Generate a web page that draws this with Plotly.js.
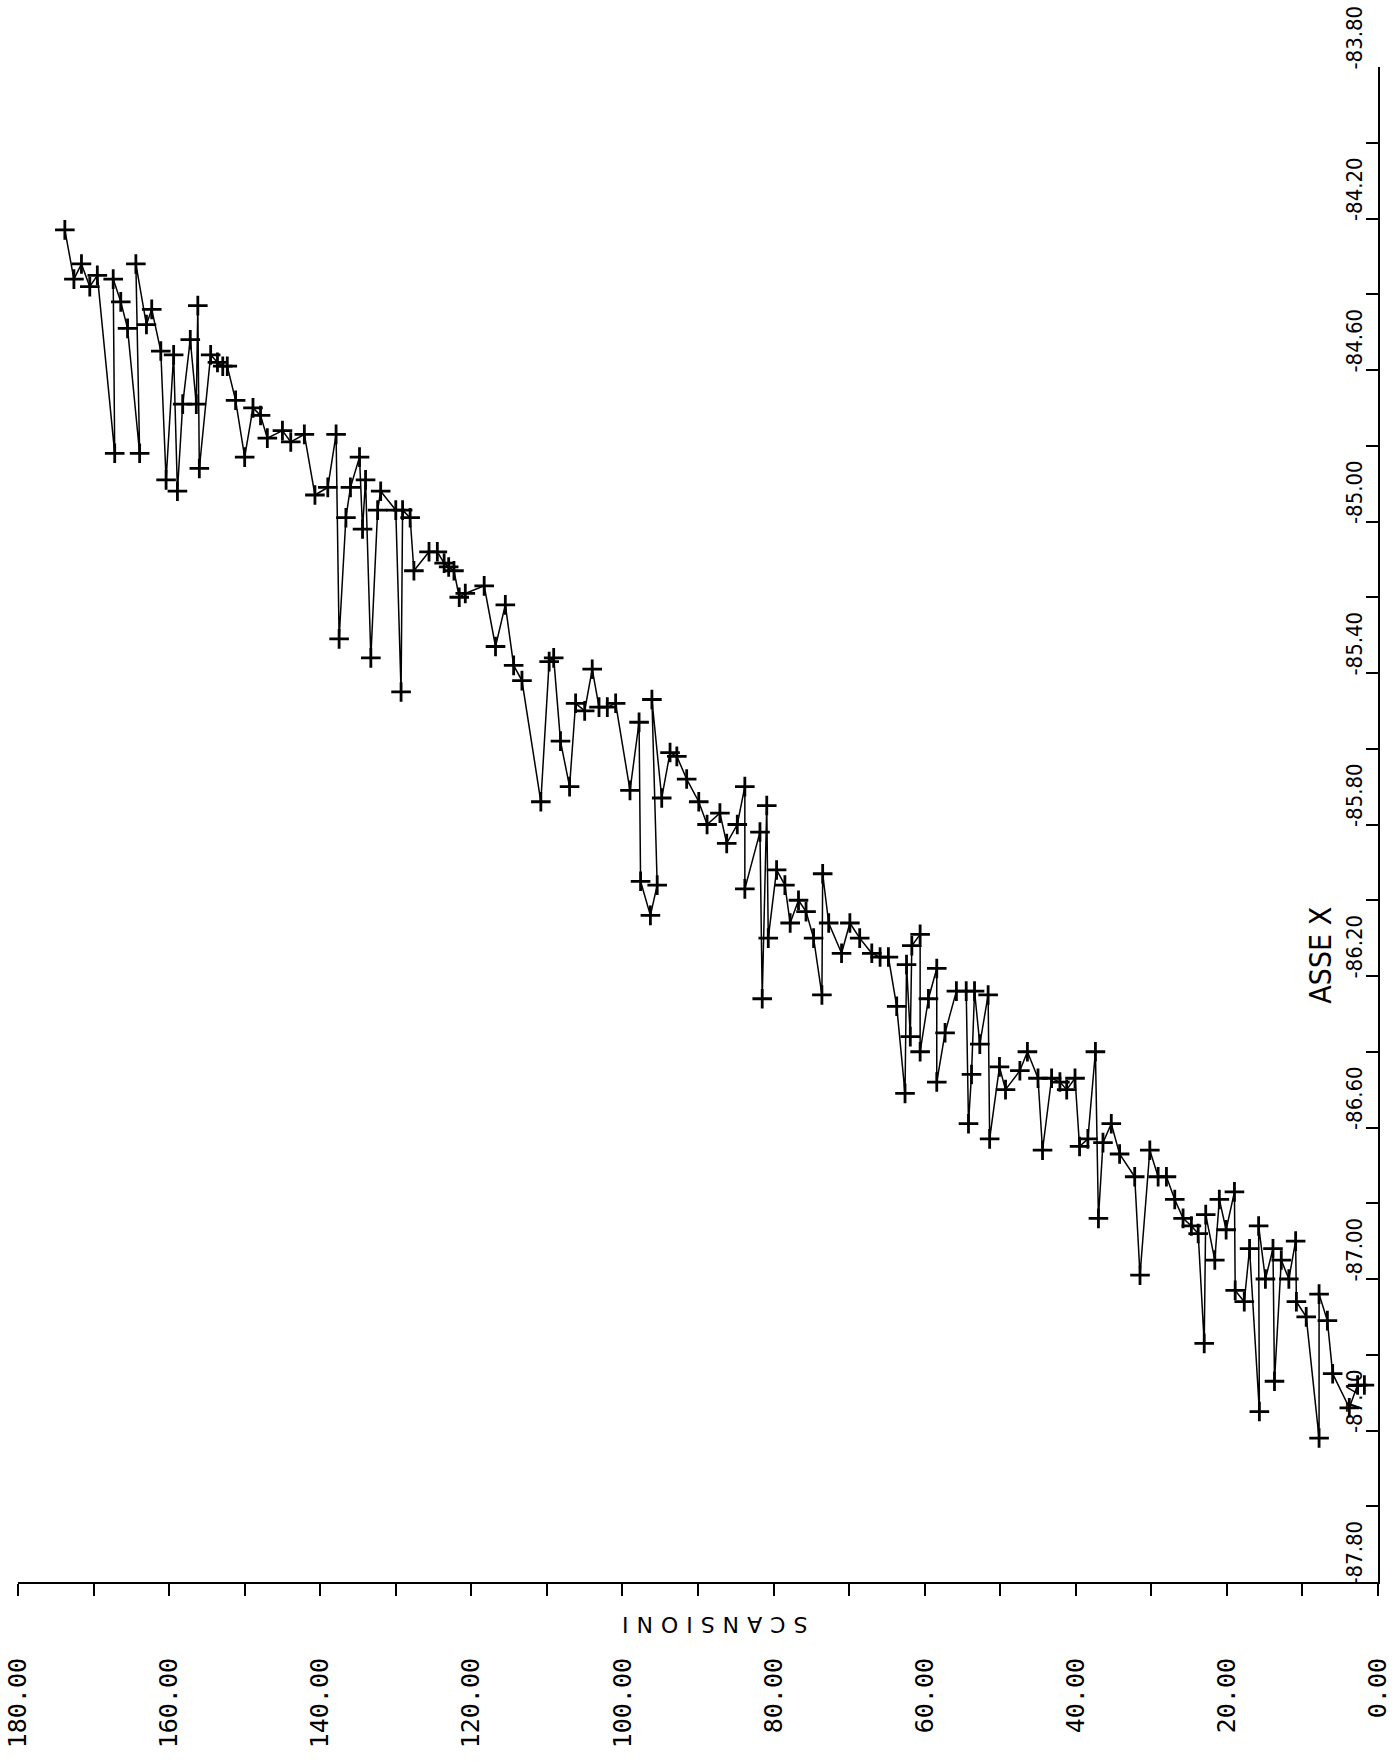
<!DOCTYPE html>
<html>
<head>
<meta charset="utf-8">
<script src="https://cdn.plot.ly/plotly-3.0.1.min.js"></script>
<style>html,body{margin:0;padding:0;background:#fff;}#chart{width:1394px;height:1762px;}</style>
</head>
<body>
<div id="chart"></div>
<script>
// Scan number (SCANSIONI) of each plotted point, in pen order
const scans = [173.8,172.6,171.6,170.5,169.5,167.2,167.4,166.4,165.5,163.9,164.4,163.0,162.3,161.1,160.4,159.4,158.9,158.2,157.2,156.4,156.2,156.0,154.5,153.6,152.9,152.3,151.2,150.0,148.9,147.9,147.0,145.0,143.9,142.1,140.7,139.0,137.9,137.5,136.6,136.0,134.8,134.4,134.0,133.3,132.4,132.0,130.0,129.3,129.1,128.1,127.6,125.6,124.5,123.6,123.0,122.3,121.6,120.8,118.3,116.8,115.5,114.4,113.3,110.8,109.7,109.1,108.2,107.0,106.2,105.0,104.0,103.1,102.0,100.9,
  99.0,97.8,97.6,96.3,95.4,96.1,94.8,93.7,92.8,91.5,89.9,88.8,87.1,86.2,84.8,83.8,83.8,81.8,81.5,80.9,80.7,79.6,78.5,77.8,76.7,75.7,74.7,73.6,73.5,72.7,71.0,69.9,68.6,67.0,65.9,64.8,
  63.7,62.6,62.4,61.9,61.7,60.6,60.6,59.5,58.4,58.4,57.3,55.8,54.5,54.2,53.8,53.4,52.7,51.6,51.4,50.1,
  49.3,47.4,46.4,45.0,44.4,43.2,42.1,41.2,40.1,39.5,38.4,37.4,37.0,36.4,35.3,34.2,32.2,31.5,30.2,29.1,28.0,26.9,25.8,24.7,23.8,23.0,22.8,21.6,21.0,20.1,19.0,18.9,17.7,17.0,15.7,15.8,14.9,13.9,13.7,12.8,11.8,10.9,10.8,9.5,7.8,7.8,6.7,6.0,3.8,2.7,1.8];
// ASSE X value of each point
const asseX = [-84.23,-84.36,-84.32,-84.38,-84.35,-84.82,-84.36,-84.42,-84.49,-84.82,-84.32,-84.48,-84.44,-84.55,-84.89,-84.56,-84.92,-84.69,-84.52,-84.69,-84.43,-84.86,-84.56,-84.58,-84.59,-84.59,-84.68,-84.83,-84.70,-84.72,-84.78,-84.76,-84.79,-84.77,-84.93,-84.91,-84.77,-85.31,-84.99,-84.91,-84.83,-85.02,-84.89,-85.36,-84.97,-84.92,-84.97,-85.45,-84.97,-84.99,-85.13,-85.08,-85.08,-85.11,-85.12,-85.13,-85.20,-85.19,-85.17,-85.33,-85.22,-85.38,-85.42,-85.74,-85.37,-85.36,-85.58,-85.70,-85.48,-85.50,-85.39,-85.49,-85.49,-85.48,
  -85.71,-85.53,-85.95,-86.04,-85.96,-85.47,-85.73,-85.61,-85.62,-85.68,-85.74,-85.80,-85.77,-85.85,-85.80,-85.70,-85.97,-85.82,-86.26,-85.75,-86.10,-85.92,-85.96,-86.06,-86.00,-86.03,-86.10,-86.25,-85.93,-86.06,-86.14,-86.06,-86.10,-86.14,-86.15,-86.15,
  -86.28,-86.51,-86.17,-86.36,-86.12,-86.09,-86.40,-86.26,-86.18,-86.48,-86.35,-86.24,-86.24,-86.59,-86.46,-86.24,-86.38,-86.25,-86.63,-86.44,
  -86.50,-86.45,-86.40,-86.47,-86.66,-86.47,-86.48,-86.50,-86.47,-86.65,-86.63,-86.40,-86.84,-86.64,-86.59,-86.67,-86.73,-86.99,-86.66,-86.73,-86.73,-86.79,-86.84,-86.86,-86.88,-87.17,-86.83,-86.95,-86.79,-86.87,-86.77,-87.03,-87.06,-86.92,-87.35,-86.86,-87.00,-86.92,-87.27,-86.95,-87.00,-86.90,-87.06,-87.10,-87.42,-87.04,-87.11,-87.25,-87.34,-87.28,-87.28];

// Axis ticks
const xTickVals = [0,20,40,60,80,100,120,140,160,180];
const xTickText = ["0.00","20.00","40.00","60.00","80.00","100.00","120.00","140.00","160.00","180.00"];
const yTickVals = [-87.8,-87.4,-87.0,-86.6,-86.2,-85.8,-85.4,-85.0,-84.6,-84.2,-83.8];
const yTickText = ["-87.80","-87.40","-87.00","-86.60","-86.20","-85.80","-85.40","-85.00","-84.60","-84.20","-83.80"];

const xTitle = "SCANSIONI";
const yTitle = "ASSE X";

const trace = {
  x: scans, y: asseX, type: 'scatter', mode: 'lines+markers',
  line: {color: '#000', width: 1.5},
  marker: {symbol: 'cross-thin', size: 14, color: '#000', line: {color: '#000', width: 2.8}},
  hoverinfo: 'skip', showlegend: false
};

const narrow = '"Liberation Sans Narrow", "DejaVu Sans Condensed", "Arial Narrow", sans-serif';

const layout = {
  width: 1394, height: 1762,
  margin: {l: 18, r: 16, t: 67, b: 180},
  paper_bgcolor: '#fff', plot_bgcolor: '#fff',
  showlegend: false,
  xaxis: {
    range: [180, 0], showgrid: false, zeroline: false,
    showline: true, linecolor: '#000', linewidth: 2,
    ticks: 'outside', ticklen: 12, tickwidth: 2, tickcolor: '#000',
    tickmode: 'array', tickvals: xTickVals, ticktext: xTickText,
    tickangle: -90, ticklabelstandoff: 52, ticklabeloverflow: 'allow',
    tickfont: {family: '"DejaVu Sans Mono", monospace', size: 25, color: '#000'},
    minor: {tickmode: 'linear', tick0: 0, dtick: 10, ticks: 'outside', ticklen: 12, tickwidth: 2, tickcolor: '#000', showgrid: false}
  },
  yaxis: {
    range: [-87.8, -83.8], side: 'right', showgrid: false, zeroline: false,
    showline: true, linecolor: '#000', linewidth: 2,
    ticks: 'inside', ticklen: 12, tickwidth: 2, tickcolor: '#000',
    tickmode: 'array', tickvals: yTickVals, ticktext: yTickText,
    ticklabelposition: 'inside', ticklabeloverflow: 'allow',
    tickangle: -90, ticklabelshift: -26, ticklabelstandoff: 1,
    tickfont: {family: narrow, size: 22, color: '#000'},
    minor: {tickmode: 'linear', tick0: -87.8, dtick: 0.2, ticks: 'inside', ticklen: 12, tickwidth: 2, tickcolor: '#000', showgrid: false}
  },
  annotations: [
    {text: '<span style="letter-spacing:8px">' + xTitle + '</span>', xref: 'paper', yref: 'paper', x: 0.509, y: -0.0284, xanchor: 'center', yanchor: 'middle',
     textangle: 180, showarrow: false, font: {family: '"DejaVu Sans", sans-serif', size: 22, color: '#000'}},
    {text: yTitle, xref: 'paper', yref: 'paper', x: 0.958, y: 0.414, xanchor: 'center', yanchor: 'middle',
     textangle: -90, showarrow: false, font: {family: narrow, size: 30, color: '#000'}}
  ]
};

Plotly.newPlot('chart', [trace], layout, {displayModeBar: false, staticPlot: true});
</script>
</body>
</html>
